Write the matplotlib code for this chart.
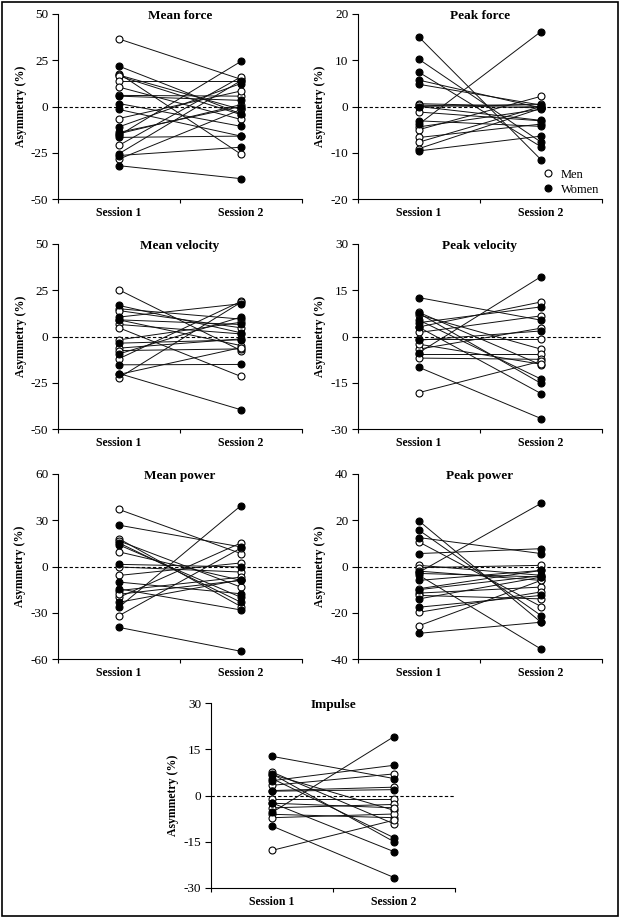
import numpy as np
import matplotlib.pyplot as plt
from matplotlib.lines import Line2D
from matplotlib.patches import Rectangle

plt.rcParams['font.family'] = ['Liberation Serif', 'DejaVu Serif']
plt.rcParams['axes.unicode_minus'] = False

# mean force
mf_men_s1 = [36.5, 17.8, 17.0, 16.5, 13.8, 10.5, 6.0, -6.5, -14.7, -21.0, -28.4]
mf_men_s2 = [14.7, -25.8, -1.6, -4.4, 13.8, -7.0, 5.6, 8.4, 1.0, 16.0, -1.6]
mf_women_s1 = [21.8, 5.6, 1.6, -1.6, -11.0, -15.6, -16.7, -25.5, -26.5, -32.0, -14.0]
mf_women_s2 = [-4.0, 3.3, -10.7, -16.0, 12.4, 24.4, -16.0, 14.0, -22.0, -39.0, 0.0]

# peak force
pf_men_s1 = [0.6, 0.0, -1.2, -4.4, -5.0, -6.7, -7.7, -9.1, 0.3]
pf_men_s2 = [0.0, 0.5, -3.1, -0.6, 2.2, -3.8, 0.0, -0.4, -0.3]
pf_women_s1 = [15.0, 10.2, 7.4, 5.7, 4.8, -3.1, -3.8, -9.6, 0.0]
pf_women_s2 = [-11.5, -7.7, -8.7, -0.3, 0.3, -4.3, 16.2, -6.4, -3.0]

# mean velocity
mv_men_s1 = [25.2, 15.0, 14.0, 9.0, 6.5, 4.7, -1.8, -6.3, -7.6, -12.0, -20.5, -22.3]
mv_men_s2 = [-7.6, 9.4, 4.7, -4.9, 1.4, -21.6, 7.7, -1.3, -6.7, 19.0, -6.0, 18.5]
mv_women_s1 = [16.8, 10.5, 9.0, -3.6, -9.4, -15.3, -20.0]
mv_women_s2 = [2.0, 17.7, 6.5, -1.8, 10.5, -15.1, -39.6]

# peak velocity
pv_men_s1 = [7.8, 7.0, 3.1, 1.3, -0.9, -4.1, -5.7, -7.0, -18.2, -2.5]
pv_men_s2 = [-9.2, -4.1, 11.2, 6.7, -0.9, 2.7, -5.7, -7.4, -8.0, -9.0]
pv_women_s1 = [12.6, 5.3, 4.5, -1.2, -5.2, -10.0, 7.5, 3.0]
pv_women_s2 = [5.3, -13.8, 9.6, 1.8, 19.4, -26.6, -15.2, -18.5]

# mean power
mp_men_s1 = [37.0, 18.0, 16.6, 9.5, -0.3, -5.8, -15.6, -20.0, -31.9, -18.0]
mp_men_s2 = [8.4, -26.0, -13.4, -9.0, -3.6, 2.3, -6.9, 15.3, 12.0, -9.0]
mp_women_s1 = [26.8, 15.3, 1.4, -10.1, -23.2, -26.4, -39.5, -14.5, 14.0]
mp_women_s2 = [12.7, -23.2, -0.3, -17.7, -8.6, 39.5, -55.0, -28.2, -20.0]

# peak power
pp_men_s1 = [10.6, 0.5, -0.5, -2.0, -9.6, -11.5, -12.5, -19.8, -25.6, -3.0]
pp_men_s2 = [-17.3, -3.8, 0.5, -6.0, -1.7, -8.9, -14.0, -11.0, -6.0, -4.5]
pp_women_s1 = [19.7, 15.7, 12.5, 5.6, -3.8, -14.0, -17.6, -28.9, -6.0, -10.0, -2.5]
pp_women_s2 = [-24.1, -21.2, 5.6, 7.7, -35.7, -4.6, -12.5, -24.1, -1.7, -4.0, 27.3]

# impulse
im_men_s1 = [7.6, 6.8, 3.3, 1.6, -1.0, -4.0, -6.1, -7.2, -17.8, -2.5]
im_men_s2 = [-9.2, -4.8, 7.0, 2.7, -1.0, -2.9, -7.2, -6.0, -8.0, -4.0]
im_women_s1 = [12.7, 5.5, 4.8, 1.4, -5.5, -9.9, 7.0, -2.4]
im_women_s2 = [5.5, -13.7, 9.8, 1.9, 19.1, -26.6, -15.0, -18.2]

sessions = ['Session 1', 'Session 2']


def panel(ax, title, lim, step, men1, men2, wom1, wom2):
    xs = [0.5, 1.5]
    for a, b in zip(men1 + wom1, men2 + wom2):
        ax.plot(xs, [a, b], color='#111111', lw=0.7, zorder=2)
    ax.plot([0.5] * len(men1) + [1.5] * len(men2), men1 + men2, 'o', ls='none',
            mfc='white', mec='black', mew=0.8, ms=5, zorder=3)
    ax.plot([0.5] * len(wom1) + [1.5] * len(wom2), wom1 + wom2, 'o', ls='none',
            mfc='black', mec='black', mew=0.8, ms=5, zorder=4)
    ax.axhline(0, color='black', lw=0.8, ls=(0, (3, 2)), zorder=1)
    ax.set_xlim(0, 2)
    ax.set_ylim(-lim, lim)
    ax.set_yticks(np.arange(-lim, lim + 1, step))
    ax.set_xticks([0, 1, 2])
    ax.set_xticklabels([])
    ax.set_xticks(xs, minor=True)
    ax.set_xticklabels(sessions, minor=True, fontweight='bold', fontsize=8.5)
    ax.tick_params(axis='x', which='minor', length=0, pad=6)
    ax.tick_params(axis='x', which='major', length=3, width=0.8)
    ax.tick_params(axis='y', length=4, width=0.8, labelsize=9.5, pad=3)
    ax.spines['top'].set_visible(False)
    ax.spines['right'].set_visible(False)
    ax.spines['left'].set_linewidth(0.8)
    ax.spines['bottom'].set_linewidth(0.8)
    ax.set_ylabel('Asymmetry (%)', fontweight='bold', fontsize=8.5, labelpad=3)
    ax.set_title(title, fontweight='bold', fontsize=9.5, y=0.93)


fig = plt.figure(figsize=(6.19, 9.17), dpi=100)
W, H = 619.0, 917.0


def add_ax(left, top):
    return fig.add_axes([left / W, 1 - (top + 185) / H, 244 / W, 185 / H])


ax1 = add_ax(58, 14)
panel(ax1, 'Mean force', 50, 25, mf_men_s1, mf_men_s2, mf_women_s1, mf_women_s2)
ax2 = add_ax(358, 14)
panel(ax2, 'Peak force', 20, 10, pf_men_s1, pf_men_s2, pf_women_s1, pf_women_s2)
handles = [Line2D([], [], marker='o', ls='none', mfc='white', mec='black', ms=5, mew=0.8),
           Line2D([], [], marker='o', ls='none', mfc='black', mec='black', ms=5, mew=0.8)]
ax2.legend(handles, ['Men', 'Women'], loc='lower right', frameon=False, fontsize=9,
           handletextpad=0.05, labelspacing=0.25, borderaxespad=0.0, bbox_to_anchor=(1.01, -0.01))

ax3 = add_ax(58, 244)
panel(ax3, 'Mean velocity', 50, 25, mv_men_s1, mv_men_s2, mv_women_s1, mv_women_s2)
ax4 = add_ax(358, 244)
panel(ax4, 'Peak velocity', 30, 15, pv_men_s1, pv_men_s2, pv_women_s1, pv_women_s2)

ax5 = add_ax(58, 474)
panel(ax5, 'Mean power', 60, 30, mp_men_s1, mp_men_s2, mp_women_s1, mp_women_s2)
ax6 = add_ax(358, 474)
panel(ax6, 'Peak power', 40, 20, pp_men_s1, pp_men_s2, pp_women_s1, pp_women_s2)

ax7 = add_ax(211, 703)
panel(ax7, 'Impulse', 30, 15, im_men_s1, im_men_s2, im_women_s1, im_women_s2)

fig.patches.append(Rectangle((1.5 / W, 1.5 / H), 1 - 3 / W, 1 - 3 / H, transform=fig.transFigure,
                             fill=False, edgecolor='black', lw=1.2))

plt.savefig('out.png', dpi=100)
